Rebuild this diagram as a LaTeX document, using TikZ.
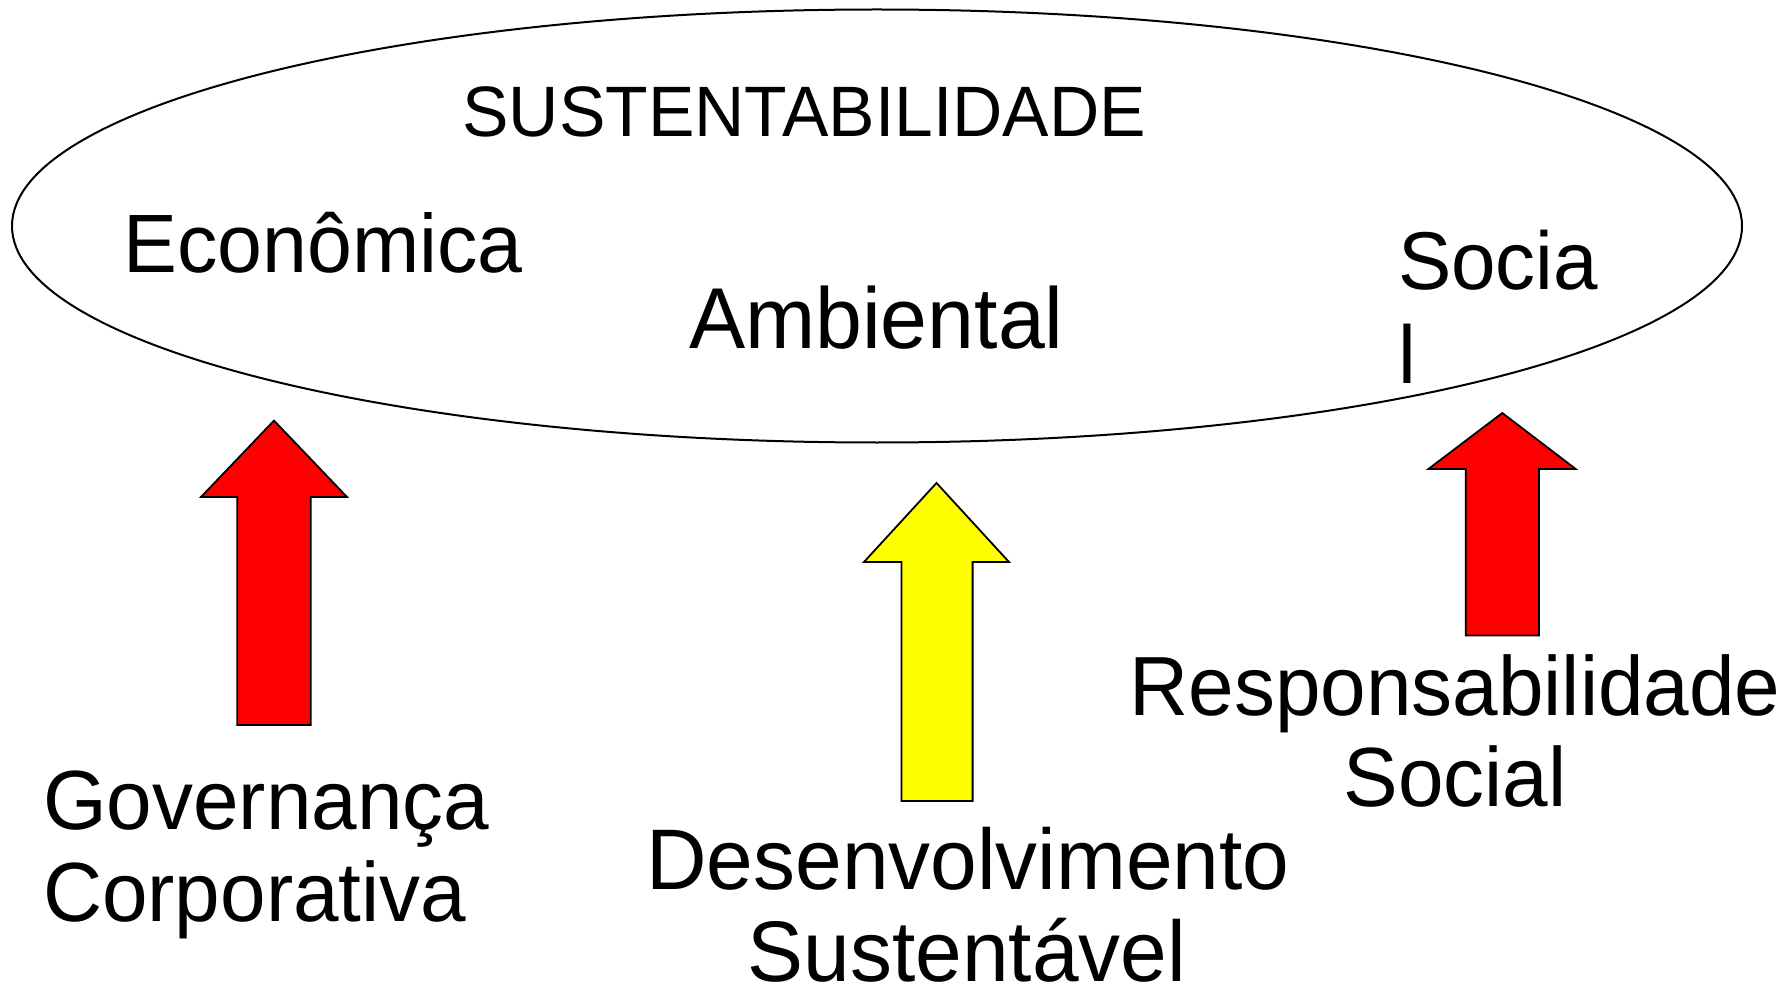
\documentclass[tikz,border=0pt]{standalone}
\usepackage{fontspec}
\setmainfont{Liberation Sans}[FakeStretch=0.975]
\definecolor{arrowred}{RGB}{255,0,0}
\definecolor{arrowyellow}{RGB}{255,255,0}
\begin{document}
\begin{tikzpicture}[x=0.5pt,y=-0.5pt,
  lbl/.style={inner sep=0pt, outer sep=0pt, font=\fontsize{42pt}{46pt}\selectfont},
  lblw/.style={lbl, anchor=base west},
  lblc/.style={lbl, anchor=base},
  blockarrow/.style={draw=black, line width=0.9pt, line join=miter},
  outline/.style={draw=black, line width=1pt}]
\useasboundingbox[fill=white] (0,0) rectangle (1789,984);
% ellipse
\draw[outline] (877,226) ellipse [x radius=865, y radius=216.5];
% texts inside the ellipse
\node[lblw, font=\fontsize{35.7pt}{40pt}\selectfont] (sust) at (462.5,136.7) {SUSTENTABILIDADE};
\node[lblw, font=\fontsize{41.4pt}{46pt}\selectfont] (econ) at (123.5,272.7) {Econômica};
\node[lblw, font=\fontsize{43.2pt}{48pt}\selectfont] (amb) at (689,348.3) {Ambiental};
\node[lblw, font=\fontsize{41pt}{46pt}\selectfont] (soc1) at (1398,290) {Socia};
\node[lblw, font=\fontsize{41pt}{46pt}\selectfont] (soc2) at (1398.5,383.3) {l};
% arrows
\draw[blockarrow, fill=arrowred] (237.3,725) -- (237.3,497) -- (201,497) -- (274,420.6) -- (347,497) -- (310.7,497) -- (310.7,725) -- cycle;
\draw[blockarrow, fill=arrowyellow] (901.4,801) -- (901.4,562) -- (864,562) -- (936.5,483) -- (1009,562) -- (972.6,562) -- (972.6,801) -- cycle;
\draw[blockarrow, fill=arrowred] (1465.8,635.5) -- (1465.8,469) -- (1428.4,469) -- (1502.3,413) -- (1575.7,469) -- (1538.9,469) -- (1538.9,635.5) -- cycle;
% labels below
\node[lblw] (gov1) at (43,829.3) {Governança};
\node[lblw] (gov2) at (43,921) {Corporativa};
\node[lblc, font=\fontsize{43pt}{46pt}\selectfont] (des1) at (968,889.3) {Desenvolvimento};
\node[lblc, font=\fontsize{43pt}{46pt}\selectfont] (des2) at (967,981.5) {Sustentável};
\node[lblc] (res1) at (1455,715) {Responsabilidade};
\node[lblc] (res2) at (1455,806.7) {Social};
\end{tikzpicture}
\end{document}
